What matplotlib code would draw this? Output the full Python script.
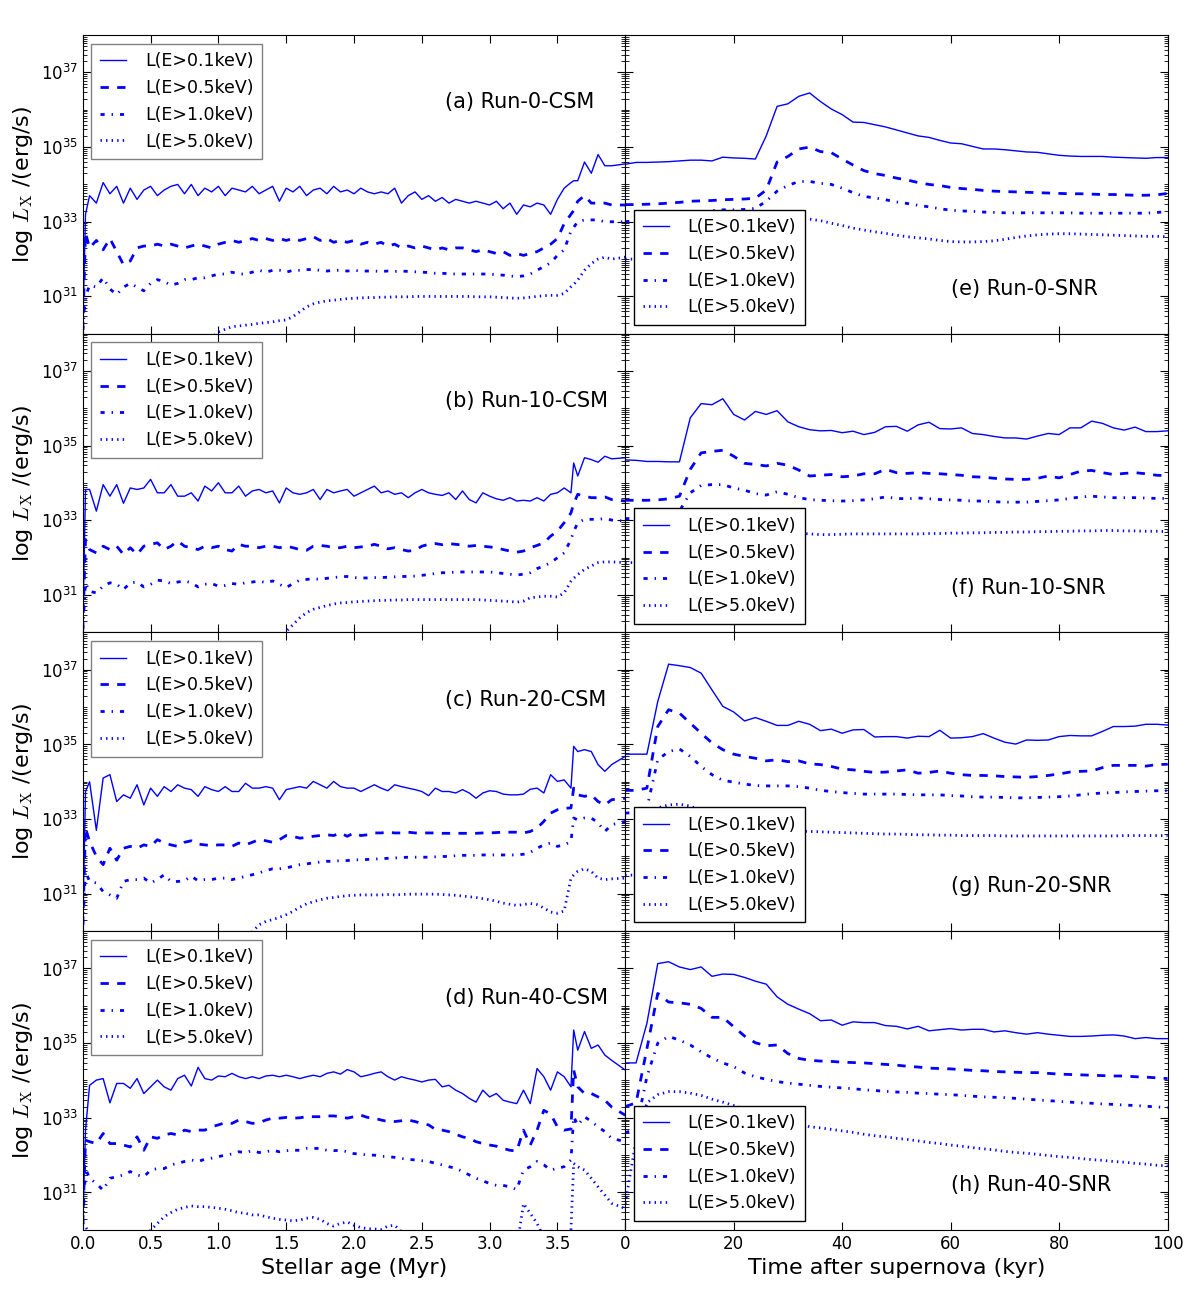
import numpy as np
import matplotlib
matplotlib.use('Agg')
import matplotlib.pyplot as plt
from matplotlib.ticker import FixedLocator, LogLocator, LogFormatterSciNotation, NullFormatter

# old matplotlib look: inward ticks on all sides, unscaled dash patterns
plt.rcParams['font.family'] = ['DejaVu Sans']
plt.rcParams['mathtext.fontset'] = 'cm'
plt.rcParams['xtick.direction'] = 'in'
plt.rcParams['ytick.direction'] = 'in'
plt.rcParams['xtick.top'] = True
plt.rcParams['ytick.right'] = True
plt.rcParams['lines.scale_dashes'] = False
plt.rcParams['lines.dashed_pattern'] = [6, 6]
plt.rcParams['lines.dashdot_pattern'] = [3, 5, 1, 5]
plt.rcParams['lines.dotted_pattern'] = [1, 3]

# ---------------- data (log10 of L_X in erg/s) ----------------
# stellar age (Myr) sampling for the CSM runs
t_csm = [0.0, 0.02, 0.05, 0.10, 0.15, 0.20, 0.25, 0.30, 0.35, 0.40,
         0.45, 0.50, 0.55, 0.60, 0.65, 0.70, 0.75, 0.80, 0.85, 0.90,
         0.95, 1.00, 1.05, 1.10, 1.15, 1.20, 1.25, 1.30, 1.35, 1.40,
         1.45, 1.50, 1.55, 1.60, 1.65, 1.70, 1.75, 1.80, 1.85, 1.90,
         1.95, 2.00, 2.05, 2.10, 2.15, 2.20, 2.25, 2.30, 2.35, 2.40,
         2.45, 2.50, 2.55, 2.60, 2.65, 2.70, 2.75, 2.80, 2.85, 2.90,
         2.95, 3.00, 3.05, 3.10, 3.15, 3.20, 3.25, 3.30, 3.35, 3.40,
         3.45, 3.50, 3.55, 3.60, 3.62, 3.65, 3.70, 3.75, 3.80, 3.85,
         3.90, 4.00]

# time after supernova (kyr) sampling for the SNR runs
t_snr = [0, 2, 4, 6, 8, 10, 12, 14, 16, 18,
         20, 22, 24, 26, 28, 30, 32, 34, 36, 38,
         40, 42, 44, 46, 48, 50, 52, 54, 56, 58,
         60, 62, 64, 66, 68, 70, 72, 74, 76, 78,
         80, 82, 84, 86, 88, 90, 92, 94, 96, 98,
         100]

# Run-0 CSM
csm0_01 = [30.1, 33.2, 33.7, 33.5, 34.05, 33.75, 33.95, 33.5, 33.9, 33.6,
           33.85, 33.95, 33.7, 33.85, 33.95, 34.0, 33.75, 34.0, 33.7, 33.9,
           33.8, 33.95, 33.7, 33.9, 33.85, 33.8, 33.95, 33.75, 33.85, 33.95,
           33.55, 33.9, 33.8, 33.95, 33.7, 33.85, 33.9, 33.75, 33.95, 33.8,
           33.85, 33.75, 33.9, 33.8, 33.75, 33.8, 33.75, 33.9, 33.5, 33.7,
           33.8, 33.6, 33.7, 33.55, 33.65, 33.5, 33.6, 33.55, 33.5, 33.55,
           33.5, 33.45, 33.55, 33.35, 33.5, 33.2, 33.45, 33.4, 33.5, 33.45,
           33.2, 33.6, 33.9, 34.05, 34.1, 34.1, 34.6, 34.3, 34.8, 34.5,
           34.5, 34.55]
csm0_05 = [30.1, 32.7, 32.3, 32.5, 32.25, 32.55, 32.2, 31.85, 31.95, 32.3,
           32.35, 32.35, 32.4, 32.35, 32.4, 32.35, 32.3, 32.35, 32.4, 32.35,
           32.3, 32.4, 32.45, 32.5, 32.45, 32.5, 32.55, 32.5, 32.55, 32.5,
           32.55, 32.5, 32.55, 32.5, 32.55, 32.6, 32.5, 32.55, 32.45, 32.5,
           32.45, 32.5, 32.4, 32.45, 32.4, 32.45, 32.35, 32.4, 32.3, 32.35,
           32.3, 32.35, 32.3, 32.25, 32.3, 32.25, 32.3, 32.3, 32.25, 32.2,
           32.25, 32.2, 32.15, 32.2, 32.1, 32.15, 32.1, 32.15, 32.2, 32.3,
           32.4, 32.55, 32.95, 33.2, 33.3, 33.55, 33.7, 33.5, 33.5, 33.5,
           33.45, 33.45]
csm0_10 = [30.1, 31.0, 31.3, 31.25, 31.5, 31.2, 31.05, 31.25, 31.35, 31.25,
           31.15, 31.35, 31.45, 31.4, 31.3, 31.35, 31.45, 31.45, 31.5, 31.5,
           31.55, 31.6, 31.6, 31.65, 31.6, 31.6, 31.65, 31.7, 31.65, 31.7,
           31.7, 31.65, 31.7, 31.7, 31.72, 31.72, 31.7, 31.68, 31.7, 31.7,
           31.68, 31.7, 31.68, 31.68, 31.68, 31.67, 31.68, 31.67, 31.68, 31.67,
           31.66, 31.65, 31.64, 31.62, 31.62, 31.61, 31.6, 31.6, 31.6, 31.6,
           31.6, 31.6, 31.58, 31.57, 31.55, 31.53, 31.55, 31.6, 31.7, 31.8,
           31.9, 32.1, 32.25, 32.75, 32.85, 33.0, 33.05, 33.05, 33.05, 33.0,
           33.0, 33.0]
csm0_50 = [29.5, 29.5, 29.5, 29.5, 29.5, 29.5, 29.5, 29.5, 29.5, 29.5,
           29.5, 29.5, 29.5, 29.5, 29.5, 29.5, 29.5, 29.5, 29.5, 29.7,
           29.9, 30.05, 30.12, 30.19, 30.21, 30.23, 30.25, 30.28, 30.3, 30.32,
           30.35, 30.37, 30.46, 30.59, 30.72, 30.8, 30.85, 30.88, 30.9, 30.92,
           30.94, 30.95, 30.96, 30.97, 30.97, 30.98, 30.98, 30.99, 30.99, 30.99,
           31.0, 31.0, 31.0, 31.0, 31.0, 31.0, 31.0, 31.0, 31.0, 30.99,
           30.99, 30.99, 30.98, 30.97, 30.96, 30.95, 30.96, 30.98, 31.0, 31.02,
           31.03, 31.03, 31.08, 31.26, 31.32, 31.44, 31.7, 31.88, 32.0, 32.05,
           32.0, 32.05]

# Run-10 CSM
csm10_01 = [30.08, 33.83, 33.83, 33.25, 33.96, 33.65, 33.96, 33.46, 33.87, 33.83,
            33.87, 34.1, 33.74, 33.74, 33.96, 33.65, 33.65, 33.74, 33.52, 33.92,
            33.79, 34.01, 33.74, 33.74, 33.92, 33.65, 33.79, 33.83, 33.74, 33.79,
            33.47, 33.87, 33.74, 33.7, 33.74, 33.83, 33.56, 33.83, 33.74, 33.79,
            33.83, 33.65, 33.74, 33.83, 33.92, 33.74, 33.79, 33.7, 33.74, 33.61,
            33.74, 33.83, 33.74, 33.7, 33.67, 33.74, 33.56, 33.79, 33.56, 33.47,
            33.74, 33.65, 33.58, 33.54, 33.61, 33.52, 33.54, 33.52, 33.61, 33.52,
            33.7, 33.74, 33.87, 33.74, 34.54, 34.19, 34.68, 34.63, 34.56, 34.72,
            34.65, 34.68]
csm10_05 = [30.08, 32.49, 32.22, 32.13, 32.31, 32.22, 32.31, 32.09, 32.27, 32.09,
            32.31, 32.36, 32.4, 32.22, 32.31, 32.45, 32.31, 32.27, 32.22, 32.31,
            32.27, 32.31, 32.22, 32.18, 32.36, 32.31, 32.31, 32.27, 32.31, 32.31,
            32.27, 32.31, 32.27, 32.22, 32.2, 32.31, 32.33, 32.31, 32.27, 32.27,
            32.31, 32.27, 32.29, 32.31, 32.36, 32.31, 32.24, 32.27, 32.22, 32.18,
            32.2, 32.31, 32.36, 32.38, 32.35, 32.38, 32.36, 32.34, 32.31, 32.33,
            32.31, 32.29, 32.27, 32.22, 32.18, 32.15, 32.18, 32.27, 32.33, 32.4,
            32.58, 32.71, 32.94, 33.2, 33.45, 33.7, 33.65, 33.61, 33.61, 33.63,
            33.56, 33.52]
csm10_10 = [30.08, 31.33, 31.1, 31.06, 31.24, 31.33, 31.29, 31.15, 31.33, 31.35,
            31.22, 31.29, 31.4, 31.38, 31.31, 31.35, 31.38, 31.33, 31.22, 31.29,
            31.31, 31.24, 31.26, 31.31, 31.29, 31.33, 31.35, 31.38, 31.33, 31.38,
            31.29, 31.2, 31.31, 31.4, 31.42, 31.44, 31.42, 31.45, 31.47, 31.49,
            31.5, 31.47, 31.46, 31.46, 31.47, 31.47, 31.48, 31.49, 31.5, 31.5,
            31.51, 31.53, 31.55, 31.58, 31.6, 31.6, 31.62, 31.62, 31.62, 31.62,
            31.62, 31.62, 31.6, 31.58, 31.56, 31.54, 31.56, 31.6, 31.71, 31.78,
            31.87, 32.0, 32.13, 32.49, 32.7, 32.94, 33.03, 33.03, 33.03, 33.05,
            33.01, 32.98]
csm10_50 = [29.5, 29.5, 29.5, 29.5, 29.5, 29.5, 29.5, 29.5, 29.5, 29.5,
            29.5, 29.5, 29.5, 29.5, 29.5, 29.5, 29.5, 29.5, 29.5, 29.5,
            29.5, 29.5, 29.5, 29.5, 29.5, 29.5, 29.5, 29.5, 29.5, 29.5,
            29.6, 30.03, 30.21, 30.39, 30.53, 30.62, 30.67, 30.72, 30.76, 30.79,
            30.8, 30.82, 30.83, 30.84, 30.85, 30.86, 30.86, 30.87, 30.87, 30.88,
            30.88, 30.88, 30.88, 30.88, 30.88, 30.88, 30.88, 30.88, 30.88, 30.88,
            30.87, 30.86, 30.85, 30.84, 30.83, 30.81, 30.84, 30.93, 30.95, 30.97,
            30.97, 30.95, 31.06, 31.37, 31.45, 31.55, 31.69, 31.78, 31.87, 31.89,
            31.89, 31.87]

# Run-20 CSM
csm20_01 = [30.17, 33.74, 34.0, 32.7, 34.1, 34.19, 33.47, 33.65, 33.56, 33.92,
            33.38, 33.83, 33.61, 33.87, 33.74, 33.92, 33.83, 33.79, 33.61, 33.87,
            33.79, 33.74, 33.87, 33.74, 33.74, 33.96, 33.83, 33.83, 33.87, 33.83,
            33.52, 33.79, 33.83, 33.87, 33.83, 34.01, 33.92, 33.83, 34.01, 33.87,
            33.83, 33.83, 33.74, 33.83, 33.92, 33.83, 33.76, 33.92, 33.87, 33.83,
            33.79, 33.74, 33.63, 33.83, 33.74, 33.74, 33.7, 33.79, 33.7, 33.56,
            33.7, 33.76, 33.74, 33.67, 33.65, 33.65, 33.67, 33.8, 33.83, 33.7,
            34.19, 34.01, 34.05, 33.83, 34.95, 34.81, 34.86, 34.81, 34.46, 34.28,
            34.46, 34.68]
csm20_05 = [30.17, 32.76, 32.4, 32.0, 31.78, 32.22, 31.9, 32.22, 32.27, 32.22,
            32.31, 32.27, 32.45, 32.36, 32.31, 32.27, 32.38, 32.42, 32.33, 32.31,
            32.29, 32.31, 32.31, 32.27, 32.36, 32.31, 32.38, 32.45, 32.42, 32.38,
            32.45, 32.56, 32.54, 32.49, 32.51, 32.54, 32.56, 32.58, 32.56, 32.63,
            32.54, 32.63, 32.56, 32.58, 32.63, 32.63, 32.65, 32.63, 32.63, 32.65,
            32.63, 32.63, 32.63, 32.63, 32.62, 32.62, 32.62, 32.62, 32.62, 32.62,
            32.63, 32.63, 32.64, 32.65, 32.65, 32.65, 32.63, 32.67, 32.76, 32.94,
            33.16, 33.25, 33.29, 33.3, 33.83, 33.65, 33.61, 33.65, 33.47, 33.38,
            33.52, 33.56]
csm20_10 = [30.17, 31.6, 31.33, 31.29, 31.06, 30.97, 30.88, 31.33, 31.38, 31.38,
            31.42, 31.29, 31.38, 31.51, 31.33, 31.33, 31.35, 31.47, 31.35, 31.38,
            31.38, 31.42, 31.42, 31.38, 31.42, 31.47, 31.51, 31.56, 31.62, 31.67,
            31.67, 31.69, 31.74, 31.78, 31.8, 31.83, 31.85, 31.87, 31.87, 31.89,
            31.89, 31.91, 31.91, 31.92, 31.93, 31.94, 31.95, 31.96, 31.97, 31.98,
            31.98, 31.98, 31.98, 31.99, 32.0, 32.0, 32.02, 32.03, 32.03, 32.03,
            32.04, 32.04, 32.04, 32.04, 32.04, 32.04, 32.06, 32.11, 32.22, 32.31,
            32.36, 32.27, 32.31, 32.4, 33.03, 32.98, 33.03, 33.03, 32.9, 32.67,
            32.85, 32.94]
csm20_50 = [29.5, 29.5, 29.5, 29.5, 29.5, 29.5, 29.5, 29.5, 29.5, 29.5,
            29.5, 29.5, 29.5, 29.5, 29.5, 29.5, 29.5, 29.5, 29.5, 29.5,
            29.5, 29.5, 29.5, 29.5, 29.5, 29.7, 29.98, 30.17, 30.26, 30.31,
            30.37, 30.44, 30.53, 30.64, 30.73, 30.79, 30.84, 30.88, 30.9, 30.93,
            30.95, 30.96, 30.97, 30.97, 30.97, 30.97, 30.98, 30.97, 30.98, 30.99,
            30.99, 30.99, 30.99, 30.99, 30.98, 30.97, 30.96, 30.94, 30.92, 30.9,
            30.87, 30.84, 30.8, 30.75, 30.72, 30.69, 30.71, 30.74, 30.71, 30.62,
            30.51, 30.48, 30.54, 31.42, 31.5, 31.6, 31.67, 31.6, 31.42, 31.38,
            31.4, 31.42]

# Run-40 CSM
csm40_01 = [30.17, 32.67, 33.87, 34.01, 34.05, 33.4, 33.92, 33.92, 33.79, 34.05,
            33.65, 33.83, 34.01, 33.83, 33.74, 34.05, 34.14, 33.85, 34.35, 34.05,
            34.01, 34.12, 34.1, 34.19, 34.1, 34.05, 34.1, 34.05, 34.12, 34.14,
            34.1, 34.14, 34.1, 34.05, 34.1, 34.14, 34.1, 34.19, 34.23, 34.17,
            34.29, 34.23, 34.1, 34.14, 34.19, 34.23, 34.1, 34.01, 34.1, 34.05,
            34.01, 33.96, 34.01, 34.03, 33.83, 33.87, 33.74, 33.65, 33.52, 33.42,
            33.74, 33.56, 33.65, 33.47, 33.42, 33.38, 33.74, 33.38, 34.32, 34.1,
            33.74, 34.23, 34.1, 33.83, 35.35, 34.81, 35.31, 34.86, 34.95, 34.68,
            34.54, 34.28]
csm40_05 = [30.17, 32.4, 32.36, 32.31, 32.58, 32.31, 32.31, 32.27, 32.22, 32.49,
            32.13, 32.49, 32.45, 32.54, 32.58, 32.54, 32.67, 32.63, 32.67, 32.67,
            32.76, 32.81, 32.87, 32.85, 32.94, 32.9, 32.85, 32.87, 32.94, 32.99,
            32.99, 33.01, 32.99, 33.0, 33.03, 33.03, 33.03, 33.05, 33.05, 33.03,
            32.99, 33.03, 33.07, 33.01, 32.99, 32.94, 32.9, 32.9, 32.92, 32.94,
            32.9, 32.85, 32.81, 32.69, 32.67, 32.63, 32.56, 32.49, 32.45, 32.36,
            32.31, 32.27, 32.24, 32.18, 32.13, 32.11, 32.67, 32.27, 32.67, 33.2,
            33.1, 32.76, 32.67, 32.7, 34.28, 33.83, 33.65, 33.65, 33.56, 33.47,
            33.29, 33.07]
csm40_10 = [30.17, 31.64, 31.38, 31.24, 31.06, 31.38, 31.42, 31.47, 31.56, 31.47,
            31.42, 31.6, 31.64, 31.64, 31.74, 31.78, 31.83, 31.87, 31.83, 31.89,
            31.92, 31.96, 32.0, 32.03, 32.09, 32.07, 32.12, 32.07, 32.09, 32.13,
            32.09, 32.12, 32.13, 32.13, 32.18, 32.18, 32.18, 32.13, 32.12, 32.13,
            32.09, 32.04, 32.03, 32.0, 32.0, 31.97, 31.96, 31.94, 31.91, 31.89,
            31.87, 31.85, 31.83, 31.78, 31.74, 31.69, 31.65, 31.56, 31.47, 31.38,
            31.31, 31.24, 31.19, 31.19, 31.15, 31.08, 31.6, 31.69, 31.83, 31.74,
            31.6, 31.65, 31.69, 31.87, 33.03, 32.8, 33.03, 32.9, 32.76, 32.63,
            32.45, 32.36]
csm40_50 = [30.17, 30.08, 29.9, 29.5, 29.5, 29.5, 29.5, 29.5, 29.5, 29.5,
            29.5, 29.99, 30.17, 30.35, 30.46, 30.55, 30.6, 30.64, 30.62, 30.62,
            30.6, 30.58, 30.55, 30.51, 30.46, 30.44, 30.4, 30.4, 30.35, 30.31,
            30.28, 30.26, 30.24, 30.26, 30.31, 30.33, 30.28, 30.17, 30.1, 30.17,
            30.21, 30.12, 30.06, 30.03, 30.02, 30.01, 30.1, 30.12, 29.95, 29.9,
            29.85, 29.8, 29.5, 29.5, 29.5, 29.5, 29.5, 29.5, 29.5, 29.5,
            29.5, 29.5, 29.5, 29.5, 29.5, 29.5, 30.7, 30.44, 30.17, 29.8,
            29.5, 29.5, 29.5, 29.99, 31.78, 31.69, 31.6, 31.38, 31.15, 30.93,
            30.71, 30.57]

# Run-0 SNR
snr0_01 = [34.54, 34.59, 34.59, 34.6, 34.61, 34.63, 34.65, 34.65, 34.63, 34.73,
           34.71, 34.7, 34.68, 35.3, 36.09, 36.16, 36.36, 36.45, 36.22, 36.02,
           35.87, 35.67, 35.66, 35.6, 35.54, 35.46, 35.38, 35.3, 35.26, 35.18,
           35.11, 35.09, 35.02, 34.95, 34.95, 34.93, 34.9, 34.87, 34.86, 34.82,
           34.78, 34.76, 34.75, 34.75, 34.75, 34.73, 34.72, 34.71, 34.7, 34.72,
           34.72]
snr0_05 = [33.46, 33.46, 33.47, 33.48, 33.5, 33.52, 33.55, 33.56, 33.57, 33.59,
           33.6, 33.61, 33.63, 33.85, 34.6, 34.75, 34.95, 35.0, 34.88, 34.85,
           34.68, 34.52, 34.37, 34.29, 34.24, 34.17, 34.12, 34.05, 34.0, 33.97,
           33.92, 33.89, 33.87, 33.84, 33.82, 33.81, 33.8, 33.79, 33.78, 33.77,
           33.76, 33.75, 33.75, 33.74, 33.73, 33.73, 33.72, 33.71, 33.71, 33.72,
           33.76]
snr0_10 = [33.0, 33.03, 33.06, 33.1, 33.14, 33.18, 33.22, 33.26, 33.3, 33.32,
           33.32, 33.33, 33.36, 33.55, 33.82, 33.97, 34.08, 34.08, 34.03, 34.0,
           33.9, 33.78, 33.68, 33.64, 33.59, 33.53, 33.49, 33.44, 33.4, 33.35,
           33.31, 33.29, 33.28, 33.26, 33.25, 33.24, 33.24, 33.24, 33.24, 33.24,
           33.24, 33.24, 33.23, 33.23, 33.23, 33.23, 33.23, 33.23, 33.23, 33.25,
           33.27]
snr0_50 = [32.0, 32.0, 32.0, 32.0, 32.0, 32.0, 32.01, 32.01, 32.02, 32.02,
           32.03, 32.04, 32.05, 32.3, 32.7, 32.95, 33.05, 33.07, 33.03, 32.96,
           32.9, 32.83, 32.78, 32.73, 32.69, 32.64, 32.6, 32.57, 32.54, 32.5,
           32.47, 32.46, 32.46, 32.47, 32.49, 32.53, 32.58, 32.62, 32.65, 32.67,
           32.68, 32.68, 32.67, 32.66, 32.65, 32.64, 32.63, 32.62, 32.61, 32.61,
           32.6]

# Run-10 SNR
snr10_01 = [34.62, 34.61, 34.58, 34.58, 34.57, 34.57, 35.75, 36.13, 36.1, 36.26,
            35.84, 35.69, 35.92, 35.84, 35.94, 35.64, 35.51, 35.43, 35.4, 35.41,
            35.35, 35.39, 35.3, 35.36, 35.51, 35.52, 35.39, 35.56, 35.63, 35.46,
            35.45, 35.48, 35.33, 35.3, 35.25, 35.21, 35.21, 35.18, 35.26, 35.33,
            35.3, 35.48, 35.48, 35.66, 35.6, 35.48, 35.42, 35.5, 35.38, 35.38,
            35.4]
snr10_05 = [33.54, 33.54, 33.54, 33.55, 33.58, 33.65, 34.37, 34.81, 34.85, 34.88,
            34.72, 34.53, 34.5, 34.46, 34.53, 34.48, 34.35, 34.19, 34.21, 34.23,
            34.17, 34.19, 34.25, 34.25, 34.37, 34.28, 34.26, 34.28, 34.26, 34.25,
            34.23, 34.21, 34.17, 34.16, 34.13, 34.11, 34.1, 34.1, 34.13, 34.19,
            34.14, 34.23, 34.32, 34.34, 34.28, 34.23, 34.26, 34.28, 34.25, 34.21,
            34.2]
snr10_10 = [33.05, 33.05, 33.05, 33.05, 33.08, 33.25, 33.74, 33.94, 33.96, 33.96,
            33.87, 33.81, 33.72, 33.68, 33.77, 33.7, 33.61, 33.56, 33.54, 33.53,
            33.52, 33.53, 33.55, 33.58, 33.63, 33.59, 33.58, 33.6, 33.58, 33.56,
            33.55, 33.54, 33.52, 33.52, 33.5, 33.49, 33.49, 33.49, 33.51, 33.53,
            33.55, 33.59, 33.63, 33.65, 33.63, 33.61, 33.61, 33.61, 33.6, 33.59,
            33.59]
snr10_50 = [31.87, 31.87, 31.87, 31.87, 31.87, 31.9, 32.3, 32.6, 32.72, 32.74,
            32.72, 32.7, 32.68, 32.68, 32.68, 32.68, 32.66, 32.64, 32.62, 32.62,
            32.63, 32.64, 32.64, 32.64, 32.64, 32.64, 32.64, 32.64, 32.65, 32.65,
            32.66, 32.66, 32.67, 32.67, 32.68, 32.68, 32.69, 32.69, 32.7, 32.7,
            32.71, 32.71, 32.72, 32.72, 32.73, 32.73, 32.72, 32.72, 32.71, 32.71,
            32.7]

# Run-20 SNR
snr20_01 = [34.74, 34.74, 34.74, 36.15, 37.15, 37.11, 37.06, 36.91, 36.46, 36.02,
            35.87, 35.63, 35.72, 35.62, 35.51, 35.51, 35.62, 35.54, 35.37, 35.41,
            35.3, 35.39, 35.4, 35.2, 35.21, 35.21, 35.17, 35.22, 35.21, 35.38,
            35.17, 35.18, 35.21, 35.29, 35.17, 35.06, 35.01, 35.12, 35.11, 35.12,
            35.21, 35.24, 35.23, 35.23, 35.35, 35.48, 35.48, 35.49, 35.54, 35.54,
            35.52]
snr20_05 = [33.77, 33.77, 33.83, 35.48, 35.93, 35.84, 35.57, 35.3, 35.04, 34.86,
            34.74, 34.68, 34.63, 34.56, 34.59, 34.54, 34.56, 34.48, 34.46, 34.41,
            34.34, 34.32, 34.28, 34.25, 34.26, 34.29, 34.32, 34.23, 34.25, 34.29,
            34.23, 34.19, 34.17, 34.17, 34.16, 34.14, 34.13, 34.12, 34.14, 34.17,
            34.21, 34.26, 34.28, 34.29, 34.38, 34.44, 34.44, 34.44, 34.42, 34.46,
            34.47]
snr20_10 = [33.16, 33.18, 33.29, 34.59, 34.81, 34.88, 34.68, 34.41, 34.19, 34.04,
            33.99, 33.94, 33.9, 33.89, 33.89, 33.89, 33.87, 33.83, 33.77, 33.74,
            33.71, 33.69, 33.67, 33.67, 33.67, 33.67, 33.66, 33.65, 33.65, 33.65,
            33.63, 33.62, 33.6, 33.59, 33.59, 33.58, 33.57, 33.57, 33.58, 33.59,
            33.6, 33.62, 33.65, 33.68, 33.7, 33.71, 33.73, 33.74, 33.75, 33.76,
            33.76]
snr20_50 = [31.5, 31.5, 31.6, 33.3, 33.38, 33.4, 33.35, 33.22, 33.1, 33.0,
            32.9, 32.83, 32.78, 32.74, 32.71, 32.69, 32.68, 32.67, 32.66, 32.65,
            32.64, 32.63, 32.62, 32.61, 32.6, 32.6, 32.59, 32.58, 32.58, 32.57,
            32.57, 32.56, 32.56, 32.56, 32.56, 32.55, 32.55, 32.55, 32.55, 32.55,
            32.55, 32.55, 32.55, 32.55, 32.55, 32.55, 32.56, 32.56, 32.56, 32.56,
            32.56]

# Run-40 SNR
snr40_01 = [34.47, 34.47, 35.53, 37.13, 37.18, 37.04, 36.97, 37.04, 36.79, 36.85,
            36.84, 36.76, 36.66, 36.58, 36.24, 36.04, 35.91, 35.79, 35.6, 35.62,
            35.48, 35.57, 35.55, 35.55, 35.47, 35.45, 35.38, 35.45, 35.33, 35.36,
            35.39, 35.35, 35.37, 35.37, 35.3, 35.33, 35.28, 35.24, 35.28, 35.24,
            35.21, 35.18, 35.18, 35.19, 35.21, 35.22, 35.19, 35.12, 35.15, 35.12,
            35.12]
snr40_05 = [33.3, 33.4, 34.85, 36.33, 36.1, 36.08, 36.04, 35.93, 35.69, 35.69,
            35.44, 35.19, 35.01, 34.93, 34.95, 34.72, 34.59, 34.54, 34.52, 34.51,
            34.49, 34.48, 34.47, 34.45, 34.43, 34.41, 34.38, 34.36, 34.33, 34.32,
            34.31, 34.29, 34.27, 34.26, 34.24, 34.23, 34.22, 34.21, 34.21, 34.19,
            34.17, 34.16, 34.15, 34.14, 34.13, 34.12, 34.12, 34.1, 34.09, 34.07,
            34.05]
snr40_10 = [32.6, 32.7, 34.1, 35.0, 35.18, 35.08, 34.95, 34.77, 34.6, 34.47,
            34.37, 34.2, 34.1, 34.03, 33.97, 33.93, 33.9, 33.87, 33.84, 33.82,
            33.8, 33.78, 33.75, 33.73, 33.71, 33.69, 33.68, 33.66, 33.65, 33.63,
            33.62, 33.6, 33.58, 33.56, 33.55, 33.54, 33.52, 33.5, 33.48, 33.46,
            33.44, 33.42, 33.4, 33.39, 33.37, 33.36, 33.34, 33.33, 33.31, 33.29,
            33.27]
snr40_50 = [30.7, 32.4, 33.4, 33.62, 33.7, 33.7, 33.66, 33.6, 33.5, 33.42,
            33.33, 33.24, 33.16, 33.08, 33.0, 32.92, 32.84, 32.76, 32.73, 32.69,
            32.65, 32.61, 32.56, 32.52, 32.49, 32.45, 32.42, 32.38, 32.34, 32.31,
            32.27, 32.24, 32.2, 32.17, 32.14, 32.1, 32.07, 32.05, 32.02, 31.99,
            31.96, 31.94, 31.91, 31.88, 31.86, 31.83, 31.81, 31.78, 31.76, 31.73,
            31.71]

band_labels = ['L(E>0.1keV)', 'L(E>0.5keV)', 'L(E>1.0keV)', 'L(E>5.0keV)']
csm_titles = ['(a) Run-0-CSM', '(b) Run-10-CSM', '(c) Run-20-CSM', '(d) Run-40-CSM']
snr_titles = ['(e) Run-0-SNR', '(f) Run-10-SNR', '(g) Run-20-SNR', '(h) Run-40-SNR']

csm_runs = [[csm0_01, csm0_05, csm0_10, csm0_50],
            [csm10_01, csm10_05, csm10_10, csm10_50],
            [csm20_01, csm20_05, csm20_10, csm20_50],
            [csm40_01, csm40_05, csm40_10, csm40_50]]
snr_runs = [[snr0_01, snr0_05, snr0_10, snr0_50],
            [snr10_01, snr10_05, snr10_10, snr10_50],
            [snr20_01, snr20_05, snr20_10, snr20_50],
            [snr40_01, snr40_05, snr40_10, snr40_50]]

styles = [('-', 1.0), ('--', 2.0), ('-.', 2.0), (':', 2.0)]


def draw_panel(ax, t, series, title, tx, ty, legend_loc, legend_edge):
    """画一个面板: 四条能段曲线 + 图例 + 标注"""
    for vals, (ls, lw), lab in zip(series, styles, band_labels):
        ax.plot(t, 10.0 ** np.asarray(vals), color='b', linestyle=ls,
                linewidth=lw, label=lab)
    ax.set_yscale('log')
    ax.set_ylim(1e30, 1e38)
    ax.yaxis.set_major_locator(FixedLocator([1e31, 1e33, 1e35, 1e37]))
    ax.yaxis.set_major_formatter(LogFormatterSciNotation())
    ax.yaxis.set_minor_locator(LogLocator(base=10, subs=np.arange(1, 10), numticks=50))
    ax.yaxis.set_minor_formatter(NullFormatter())
    ax.tick_params(which='major', length=6, width=0.8, labelsize=12)
    ax.tick_params(which='minor', length=3, width=0.6)
    leg = ax.legend(loc=legend_loc, fontsize=12.5, handlelength=1.5,
                    handletextpad=1.1, labelspacing=0.5, borderpad=0.5,
                    fancybox=False, framealpha=1.0)
    leg.get_frame().set_edgecolor(legend_edge)
    leg.get_frame().set_linewidth(1.0)
    ax.text(tx, ty, title, transform=ax.transAxes, fontsize=15,
            ha='left', va='center')


fig, axes = plt.subplots(4, 2, figsize=(12, 13), dpi=100, sharex='col', sharey=True)
fig.subplots_adjust(left=0.069, right=0.973, top=0.973, bottom=0.054,
                    wspace=0.0, hspace=0.0)

for i in range(4):
    ax_l = axes[i, 0]
    ax_r = axes[i, 1]
    draw_panel(ax_l, t_csm, csm_runs[i], csm_titles[i], 0.668, 0.775,
               'upper left', '0.5')
    draw_panel(ax_r, t_snr, snr_runs[i], snr_titles[i], 0.600, 0.15,
               'lower left', 'black')
    ax_l.set_ylabel(r'log $L_{\rm X}$ /(erg/s)', fontsize=16)
    ax_l.set_xlim(0, 4.0)
    ax_r.set_xlim(0, 100)
    ax_l.xaxis.set_major_locator(FixedLocator([0.0, 0.5, 1.0, 1.5, 2.0, 2.5, 3.0, 3.5]))
    ax_r.xaxis.set_major_locator(FixedLocator([0, 20, 40, 60, 80, 100]))

axes[3, 0].set_xlabel('Stellar age (Myr)', fontsize=16)
axes[3, 1].set_xlabel('Time after supernova (kyr)', fontsize=16)

fig.savefig('out.png', dpi=100, facecolor='white')
